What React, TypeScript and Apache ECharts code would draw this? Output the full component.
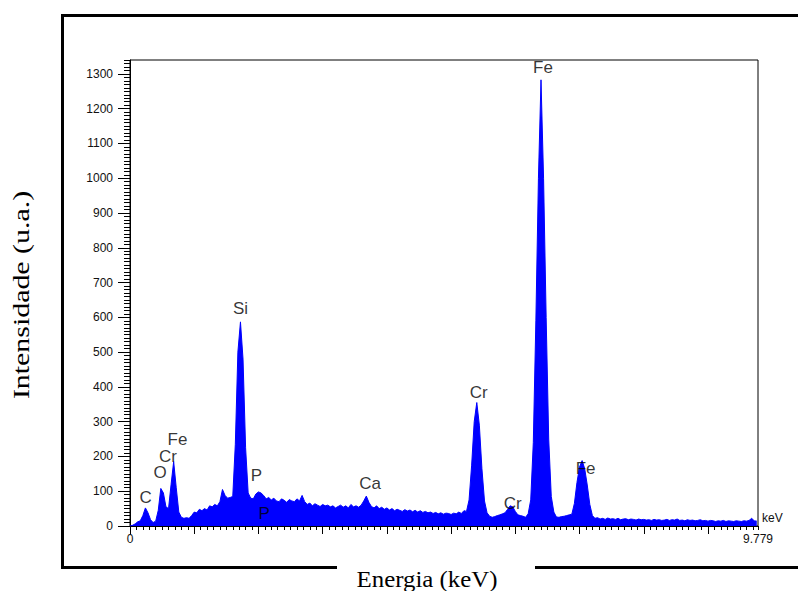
import React, { useEffect, useRef } from "react";
import * as echarts from "echarts";

// EDS spectrum: counts per channel (channel width 0.04 keV, starting at 0 keV)
const CHANNEL_KEV = 0.04;
const counts = [
  0, 2, 6, 12, 15, 30, 52, 38, 18, 10,
  14, 45, 108, 95, 55, 50, 120, 185, 110, 40,
  25, 22, 24, 22, 30, 40, 38, 48, 44, 50,
  46, 58, 55, 62, 58, 70, 105, 88, 80, 82,
  85, 235, 500, 587, 480, 225, 95, 80, 78, 92,
  98, 95, 88, 78, 82, 75, 80, 72, 70, 78,
  74, 68, 76, 72, 70, 78, 72, 88, 70, 62,
  66, 58, 64, 60, 56, 62, 58, 60, 55, 58,
  52, 56, 60, 54, 58, 52, 62, 55, 58, 54,
  60, 72, 86, 68, 56, 52, 58, 50, 54, 48,
  52, 46, 50, 44, 48, 45, 42, 47, 43, 46,
  41, 45, 40, 44, 39, 42, 38, 40, 36, 39,
  35, 38, 34, 37, 36, 33, 37, 35, 40, 36,
  44, 42, 75, 175, 300, 355, 290, 165, 72, 38,
  28, 25, 27, 30, 32, 35, 38, 48, 58, 55,
  42, 32, 30, 28, 25, 35, 75, 240, 590, 1000,
  1283, 1000, 600, 250, 85, 40, 26, 25, 27, 28,
  30, 32, 34, 65, 125, 170, 188, 165, 118, 62,
  30, 22, 24, 20, 22, 19, 23, 20, 21, 19,
  22, 18, 20, 21, 18, 20, 19, 17, 20, 18,
  19, 17, 18, 16, 19, 17, 18, 16, 17, 19,
  16, 18, 17, 20, 16, 17, 15, 18, 16, 17,
  15, 16, 18, 15, 16, 14, 16, 15, 13, 15,
  14, 16, 13, 15, 14, 13, 15, 14, 13, 15,
  14, 16, 22, 15, 14,
];

// Peak identification labels
const peakNames = ["C", "O", "Cr", "Fe", "Si", "P", "P", "Ca", "Cr", "Cr", "Fe", "Fe"];
const peakLabelKeV = [0.245, 0.47, 0.59, 0.74, 1.72, 1.97, 2.09, 3.74, 5.43, 5.96, 6.43, 7.095];
const peakLabelCounts = [82, 154, 201, 250, 626, 144, 36, 121, 384, 65, 1318, 164];

// Axis ticks, labels and titles
const X_MAX = 9.779;
const Y_MAX = 1340;
const xMajorTicks = [0, 1, 2, 3, 4, 5, 6, 7, 8, 9];
const xLabelValues = [0, 9.779];
const yMajorTicks = [0, 100, 200, 300, 400, 500, 600, 700, 800, 900, 1000, 1100, 1200, 1300];
const xUnit = "keV";
const xTitle = "Energia (keV)";
const yTitle = "Intensidade (u.a.)";

const SANS = "Liberation Sans, Arial, sans-serif";
const SERIF = "Liberation Serif, Times New Roman, serif";

export default function App() {
  const ref = useRef<HTMLDivElement>(null);

  useEffect(() => {
    if (!ref.current) return;
    const chart = echarts.init(ref.current, undefined, { renderer: "svg" });
    const spectrum = counts.map((c, i) => [i * CHANNEL_KEV, c]);
    const peaks = peakNames.map((n, i) => ({ name: n, value: [peakLabelKeV[i], peakLabelCounts[i]] }));

    chart.setOption({
      animation: false,
      backgroundColor: "#ffffff",
      grid: {
        left: 130,
        top: 60,
        right: 40,
        bottom: 65,
        show: true,
        borderColor: "#000",
        borderWidth: 1,
        backgroundColor: "transparent",
      },
      xAxis: [
        {
          type: "value",
          min: 0,
          max: X_MAX,
          position: "bottom",
          name: xUnit,
          nameLocation: "end",
          nameGap: 4,
          nameTextStyle: { fontFamily: SANS, fontSize: 12, color: "#111", verticalAlign: "bottom", padding: [0, 0, 2, 0] },
          axisLine: { show: true, lineStyle: { color: "#000", width: 1 } },
          axisTick: { show: true, customValues: xMajorTicks, length: 8, lineStyle: { color: "#000" } },
          axisLabel: {
            show: true,
            customValues: xLabelValues,
            margin: 7,
            fontFamily: SANS,
            fontSize: 12,
            color: "#111",
            formatter: (v: number) => String(v),
          },
          splitLine: { show: false },
        },
        {
          type: "value",
          min: 0,
          max: X_MAX,
          interval: 0.1,
          position: "bottom",
          axisLine: { show: false },
          axisTick: { show: true, length: 4, lineStyle: { color: "#000" } },
          axisLabel: { show: false },
          splitLine: { show: false },
        },
      ],
      yAxis: [
        {
          type: "value",
          min: 0,
          max: Y_MAX,
          position: "left",
          axisLine: { show: true, lineStyle: { color: "#000", width: 1 } },
          axisTick: { show: true, customValues: yMajorTicks, length: 12, lineStyle: { color: "#000" } },
          axisLabel: {
            show: true,
            customValues: yMajorTicks,
            margin: 17,
            fontFamily: SANS,
            fontSize: 12,
            color: "#111",
            formatter: (v: number) => String(v),
          },
          splitLine: { show: false },
        },
        {
          type: "value",
          min: 0,
          max: Y_MAX,
          interval: 10,
          position: "left",
          axisLine: { show: false },
          axisTick: { show: true, length: 6, lineStyle: { color: "#000" } },
          axisLabel: { show: false },
          splitLine: { show: false },
        },
      ],
      series: [
        {
          type: "line",
          xAxisIndex: 0,
          yAxisIndex: 0,
          data: spectrum,
          showSymbol: false,
          symbol: "none",
          lineStyle: { color: "#0000ff", width: 1 },
          areaStyle: { color: "#0000ff", opacity: 1 },
          z: 2,
        },
        {
          type: "scatter",
          xAxisIndex: 0,
          yAxisIndex: 0,
          data: peaks,
          symbolSize: 1,
          itemStyle: { color: "transparent" },
          silent: true,
          label: {
            show: true,
            position: "inside",
            formatter: "{b}",
            fontFamily: SANS,
            fontSize: 17,
            color: "#000",
          },
          z: 5,
        },
      ],
      graphic: [
        { type: "line", shape: { x1: 61, y1: 15.5, x2: 798, y2: 15.5 }, style: { stroke: "#000", lineWidth: 3 } },
        { type: "line", shape: { x1: 62.5, y1: 14, x2: 62.5, y2: 569 }, style: { stroke: "#000", lineWidth: 3 } },
        { type: "line", shape: { x1: 61, y1: 567.5, x2: 337, y2: 567.5 }, style: { stroke: "#000", lineWidth: 3 } },
        { type: "line", shape: { x1: 535, y1: 567.5, x2: 798, y2: 567.5 }, style: { stroke: "#000", lineWidth: 3 } },
        {
          type: "text",
          x: 427,
          y: 579,
          scaleX: 1.08,
          style: {
            text: xTitle,
            fontFamily: SERIF,
            fontSize: 23,
            fill: "#000",
            align: "center",
            verticalAlign: "middle",
          },
        },
        {
          type: "text",
          x: 21,
          y: 295,
          rotation: Math.PI / 2,
          scaleX: 1.3,
          style: {
            text: yTitle,
            fontFamily: SERIF,
            fontSize: 23,
            fill: "#000",
            align: "center",
            verticalAlign: "middle",
          },
        },
      ],
    });

    return () => chart.dispose();
  }, []);

  return (
    <div
      ref={ref}
      style={{ position: "absolute", left: 0, top: 0, width: 798, height: 591 }}
    />
  );
}
